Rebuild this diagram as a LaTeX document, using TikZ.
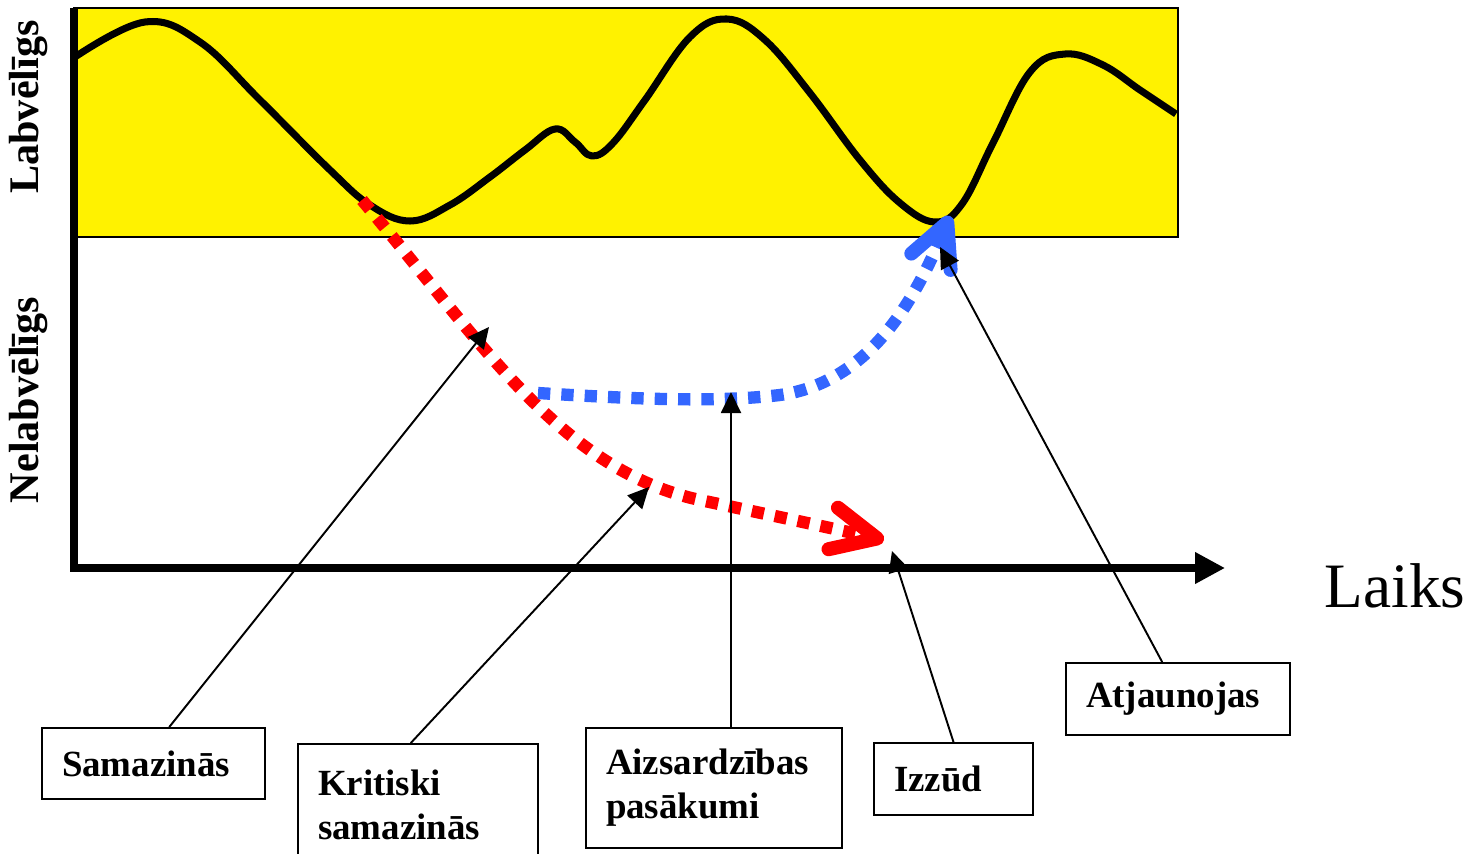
\documentclass[tikz,border=0pt]{standalone}
\usepackage{fontspec}
\setmainfont{Liberation Serif}
\usetikzlibrary{arrows.meta,calc}
\definecolor{lineblue}{RGB}{51,102,255}

\begin{document}
\begin{tikzpicture}[x=0.02cm, y=-0.02cm,
	every node/.style={font=\bfseries\fontsize{21}{25}\selectfont},
	box/.style={draw, line width=1.1pt, fill=white, align=left, inner xsep=0.4cm, inner ysep=0pt},
	callout/.style={line width=1.1pt, -{Triangle[length=4.2mm,width=4mm]}},
	dots/.style={line width=7pt, dash pattern=on 7pt off 6.3pt},
	side/.style={rotate=90, anchor=base, font=\bfseries\fontsize{24}{28}\selectfont}]
	\useasboundingbox (0,0) rectangle (1475,853);
	\clip (0,0) rectangle (1475,853);
	\draw[fill=yellow, line width=1.1pt] (74,8) rectangle (1178,237);
	\draw[line width=4pt, line join=round] plot[smooth, tension=0.65] coordinates {(75,57) (145,22) (200,42) (260,100) (330,170) (370,205) (410,221) (450,205) (490,177) (525,150) (555,129) (575,142) (592,156) (613,143) (645,100) (690,37) (727,19) (765,40) (810,93) (860,160) (900,203) (935,222) (962,204) (993,143) (1030,72) (1065,54) (1103,65) (1140,90) (1176,114)};
	\draw[dots, red, -{Straight Barb[length=9mm,width=8.5mm,line width=8pt,round]}] (362,200) .. controls (480,340) and (560,470) .. (700,500) .. controls (780,517) and (840,530) .. (884,540);
	\draw[dots, lineblue, -{Straight Barb[length=8.5mm,width=8.5mm,line width=8pt,round]}] (538,393) .. controls (650,400) and (720,402) .. (780,395) .. controls (870,382) and (915,300) .. (950,216);
	\draw[line width=4pt] (74,8) -- (74,572);
	\draw[line width=4pt, -{Triangle[length=6mm,width=6mm]}] (72,568) -- (1225,568);
	\node[font=\fontsize{36}{40}\selectfont, anchor=base] (laiks) at (1395,607) {Laiks};
	\node[side] (lab) at (38,107) {Labvēlīgs};
	\node[side] (nelab) at (38,400) {Nelabvēlīgs};
	\node[box, text width=3.66cm, minimum height=1.42cm] (sam) at (153.5,763.5) {Samazinās};
	\node[box, text width=4cm, minimum height=2.44cm] (krit) at (418,805) {Kritiski\\samazinās};
	\node[box, text width=4.32cm, minimum height=2.4cm] (aizs) at (714,788) {Aizsardzības\\pasākumi};
	\node[box, text width=2.38cm, minimum height=1.44cm] (izz) at (953.5,779) {Izzūd};
	\node[box, text width=3.68cm, minimum height=1.44cm] (atj) at (1178,699) {Atjaunojas};
	\coordinate (tSam) at (489,327);
	\coordinate (tKrit) at (649,487);
	\coordinate (tAizs) at (731,392);
	\coordinate (tIzz) at (892,551);
	\coordinate (tAtj) at (940,247);
	\draw[callout] ($(sam.north west)!0.57!(sam.north east)$) -- (tSam);
	\draw[callout] ($(krit.north west)!0.47!(krit.north east)$) -- (tKrit);
	\draw[callout] ($(aizs.north west)!0.566!(aizs.north east)$) -- (tAizs);
	\draw[callout] (izz.north) -- (tIzz);
	\draw[callout] ($(atj.north west)!0.43!(atj.north east)$) -- (tAtj);
\end{tikzpicture}
\end{document}
